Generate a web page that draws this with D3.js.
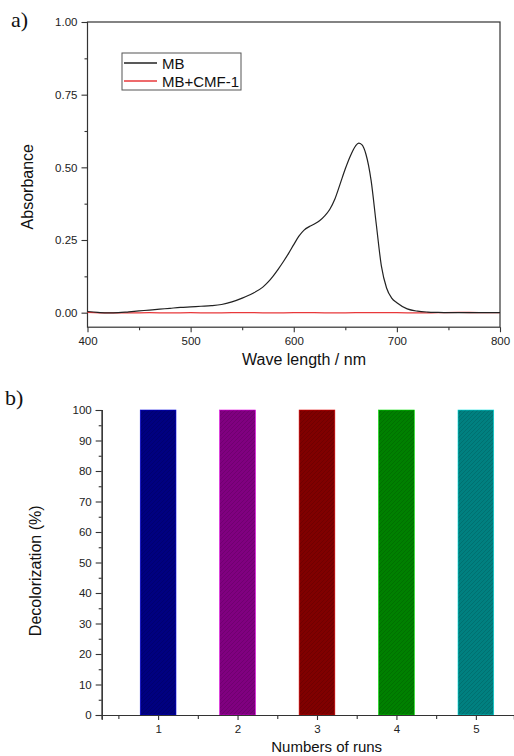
<!DOCTYPE html>
<html>
<head>
<meta charset="utf-8">
<script src="https://cdn.jsdelivr.net/npm/d3@7"></script>
<style>
  body { margin: 0; background: #fff; }
  svg { display: block; font-family: "Liberation Sans", Arial, sans-serif; }
  .tick text { fill: #222; }
  .domain, .tick line { stroke: #333; }
</style>
</head>
<body>
<div id="chart"></div>
<script>
// panel a: absorption spectra
var wavelengths = [400, 410, 420, 430, 440, 450, 460, 470, 480, 490, 500, 510, 520, 530, 540, 550, 560, 570, 575, 580, 585, 590, 595,
    600, 605, 610, 615, 620, 625, 630, 635, 640, 645, 650, 655, 660, 663, 666, 670, 675, 680, 685, 690, 695, 700,
    710, 720, 730, 740, 760, 780, 800];
var absMB = [0.004, 0.001, -0.001, 0.000, 0.003, 0.006, 0.009, 0.012, 0.015, 0.018, 0.020, 0.022, 0.024, 0.028, 0.037, 0.050, 0.066, 0.088, 0.105, 0.126, 0.150, 0.176, 0.204,
    0.234, 0.263, 0.284, 0.296, 0.305, 0.316, 0.333, 0.356, 0.392, 0.443, 0.495, 0.540, 0.574, 0.583, 0.578, 0.545, 0.455, 0.305, 0.160, 0.085, 0.050, 0.034,
    0.013, 0.005, 0.002, 0.001, 0.000, 0.000, 0.000];
var wlRed = [400, 420, 440, 460, 480, 500, 520, 540, 560, 580, 600, 620, 640, 660, 680, 700, 720, 740, 760, 780, 800];
var absRed = [0.001, -0.001, -0.001, 0.000, -0.001, 0.000, -0.001, 0.000, 0.000, -0.001, 0.000, 0.000, -0.001, 0.000, 0.000, 0.000, -0.001, 0.000, 0.001, 0.000, 0.000];
var legendNames = ["MB", "MB+CMF-1"];
var lineColors = ["#222222", "#e8383b"];

// panel b: recycling runs
var runs = [1, 2, 3, 4, 5];
var decolor = [100, 100, 100, 100, 100];
var barColors = ["#000080", "#800080", "#800000", "#008000", "#008080"];

var W = 514, H = 756;

var svg = d3.select("#chart").append("svg")
    .attr("width", W)
    .attr("height", H);

var defs = svg.append("defs");

// ---------- panel a ----------
var xA = d3.scaleLinear().domain([400, 800]).range([87.5, 500]);
var yA = d3.scaleLinear().domain([-0.05, 1.0]).range([327.2, 22]);

var pa = svg.append("g");

// frame
pa.append("rect")
    .attr("x", xA.range()[0])
    .attr("y", yA.range()[1])
    .attr("width", xA.range()[1] - xA.range()[0])
    .attr("height", yA.range()[0] - yA.range()[1])
    .attr("fill", "none")
    .attr("stroke", "#333")
    .attr("stroke-width", 1.2);

pa.append("g")
    .attr("transform", "translate(" + xA.range()[0] + ",0)")
    .call(d3.axisLeft(yA).tickValues([0, 0.25, 0.5, 0.75, 1]).tickFormat(d3.format(".2f")).tickSize(6).tickPadding(4));
pa.append("g")
    .attr("transform", "translate(" + xA.range()[0] + ",0)")
    .call(d3.axisLeft(yA).tickValues([0.125, 0.375, 0.625, 0.875]).tickFormat("").tickSize(3));

pa.append("g")
    .attr("transform", "translate(0," + yA.range()[0] + ")")
    .call(d3.axisBottom(xA).tickValues([400, 500, 600, 700, 800]).tickFormat(d3.format("d")).tickSize(5).tickPadding(5));
pa.append("g")
    .attr("transform", "translate(0," + yA.range()[0] + ")")
    .call(d3.axisBottom(xA).tickValues([450, 550, 650, 750]).tickFormat("").tickSize(3));

pa.selectAll(".domain").remove();
pa.selectAll(".tick text").attr("font-size", "11.5px");
pa.selectAll(".tick line").attr("stroke-width", 1.1);

var line = d3.line()
    .x(function(d) { return xA(d[0]); })
    .y(function(d) { return yA(d[1]); })
    .curve(d3.curveMonotoneX);

pa.append("path")
    .datum(d3.zip(wlRed, absRed))
    .attr("d", line)
    .attr("fill", "none")
    .attr("stroke", lineColors[1])
    .attr("stroke-width", 1.3);

pa.append("path")
    .datum(d3.zip(wavelengths, absMB))
    .attr("d", line)
    .attr("fill", "none")
    .attr("stroke", lineColors[0])
    .attr("stroke-width", 1.2);

// legend
var leg = pa.append("g").attr("transform", "translate(122,53)");
leg.append("rect")
    .attr("width", 119)
    .attr("height", 37)
    .attr("fill", "#fff")
    .attr("stroke", "#555")
    .attr("stroke-width", 1);
legendNames.forEach(function(name, i) {
    leg.append("line")
        .attr("x1", 2).attr("x2", 35)
        .attr("y1", 10 + i * 18).attr("y2", 10 + i * 18)
        .attr("stroke", lineColors[i])
        .attr("stroke-width", 1.3);
    leg.append("text")
        .attr("x", 40)
        .attr("y", 15.5 + i * 18)
        .attr("font-size", "15px")
        .attr("fill", "#111")
        .text(name);
});

pa.append("text")
    .attr("transform", "translate(33,186.7) rotate(-90)")
    .attr("text-anchor", "middle")
    .attr("font-size", "16px")
    .attr("fill", "#111")
    .text("Absorbance");

pa.append("text")
    .attr("x", 304)
    .attr("y", 365)
    .attr("text-anchor", "middle")
    .attr("font-size", "16px")
    .attr("fill", "#111")
    .text("Wave length / nm");

svg.append("text")
    .attr("x", 11)
    .attr("y", 27)
    .attr("font-family", "'Liberation Serif', 'Times New Roman', serif")
    .attr("font-size", "22px")
    .attr("fill", "#111")
    .text("a)");

// ---------- panel b ----------
var xB = d3.scaleLinear().domain([0.29, 5.48]).range([101.7, 514]);
var yB = d3.scaleLinear().domain([0, 100]).range([715, 410]);
var barW = xB(0.45) - xB(0);

var pb = svg.append("g");

barColors.forEach(function(c, i) {
    var p = defs.append("pattern")
        .attr("id", "hatch" + i)
        .attr("patternUnits", "userSpaceOnUse")
        .attr("width", 4)
        .attr("height", 4);
    p.append("rect").attr("width", 4).attr("height", 4).attr("fill", c);
    p.append("path")
        .attr("d", "M-1,1 l2,-2 M0,4 l4,-4 M3,5 l2,-2")
        .attr("stroke", d3.color(c).darker(0.8))
        .attr("stroke-width", 0.7)
        .attr("opacity", 0.7);
});

pb.selectAll("rect.bar")
    .data(runs)
    .enter()
    .append("rect")
    .attr("class", "bar")
    .attr("x", function(d) { return xB(d) - barW / 2; })
    .attr("y", function(d, i) { return yB(decolor[i]); })
    .attr("width", barW)
    .attr("height", function(d, i) { return yB(0) - yB(decolor[i]); })
    .attr("fill", function(d, i) { return "url(#hatch" + i + ")"; })
    .attr("stroke", function(d, i) { return d3.color(barColors[i]).brighter(1.6); })
    .attr("stroke-width", 0.6);

pb.append("g")
    .attr("transform", "translate(" + xB.range()[0] + ",0)")
    .call(d3.axisLeft(yB).tickValues(d3.range(0, 101, 10)).tickSize(6).tickPadding(4));
pb.append("g")
    .attr("transform", "translate(" + xB.range()[0] + ",0)")
    .call(d3.axisLeft(yB).tickValues(d3.range(5, 100, 10)).tickFormat("").tickSize(3));

pb.append("g")
    .attr("transform", "translate(0," + yB.range()[0] + ")")
    .call(d3.axisBottom(xB).tickValues(runs).tickFormat(d3.format("d")).tickSize(5).tickPadding(5));
pb.append("g")
    .attr("transform", "translate(0," + yB.range()[0] + ")")
    .call(d3.axisBottom(xB).tickValues([0.5, 1.5, 2.5, 3.5, 4.5]).tickFormat("").tickSize(4));

pb.selectAll(".domain").attr("stroke-width", 1.2);
pb.selectAll(".tick text").attr("font-size", "11.5px");
pb.selectAll(".tick line").attr("stroke-width", 1.1);

pb.append("text")
    .attr("transform", "translate(41,570.8) rotate(-90)")
    .attr("text-anchor", "middle")
    .attr("font-size", "16px")
    .attr("fill", "#111")
    .text("Decolorization (%)");

pb.append("text")
    .attr("x", 326.7)
    .attr("y", 752)
    .attr("text-anchor", "middle")
    .attr("font-size", "15px")
    .attr("fill", "#111")
    .text("Numbers of runs");

svg.append("text")
    .attr("x", 5)
    .attr("y", 405)
    .attr("font-family", "'Liberation Serif', 'Times New Roman', serif")
    .attr("font-size", "22px")
    .attr("fill", "#111")
    .text("b)");
</script>
</body>
</html>
